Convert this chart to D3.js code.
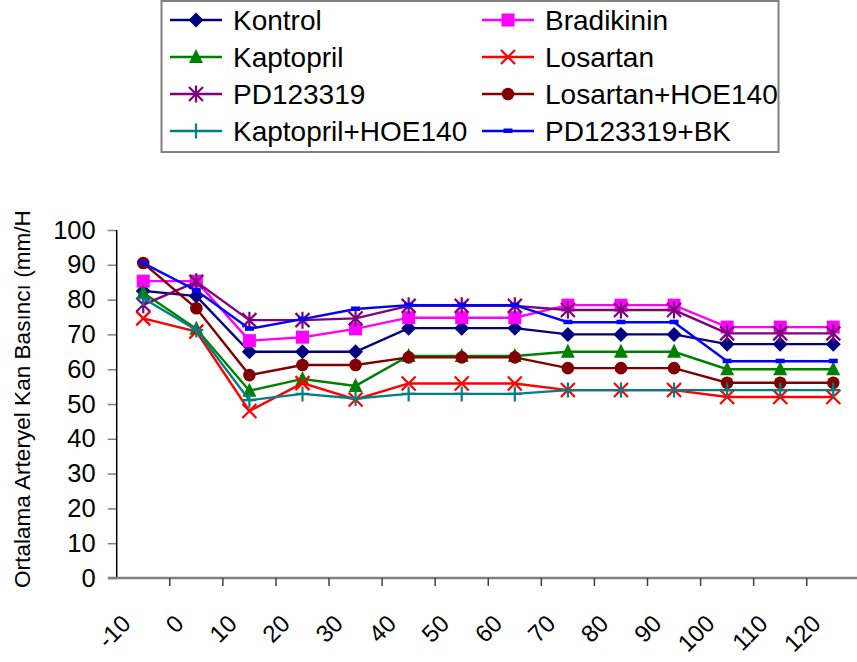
<!DOCTYPE html>
<html><head><meta charset="utf-8">
<script src="https://cdn.jsdelivr.net/npm/d3@7/dist/d3.min.js"></script>
<style>body{margin:0;background:#fff;}svg{display:block;font-family:"Liberation Sans",Arial,sans-serif;}</style>
</head><body><svg id="c" width="857" height="662"></svg>
<script>
const categories = ["-10","0","10","20","30","40","50","60","70","80","90","100","110","120"];
const yTicks = [0,10,20,30,40,50,60,70,80,90,100];
const seriesNames = ["Kontrol","Bradikinin","Kaptopril","Losartan","PD123319","Losartan+HOE140","Kaptopril+HOE140","PD123319+BK"];
const kontrol   = [82.5, 81, 65, 65, 65, 71.8, 71.8, 71.8, 70, 70, 70, 67.2, 67.2, 67.2];
const bradikinin= [85.3, 85.3, 68.2, 69.2, 71.6, 74.8, 74.8, 74.8, 78.4, 78.4, 78.4, 72.1, 72.1, 72.1];
const kaptopril = [82, 71.6, 53.8, 57.2, 55.2, 63.8, 63.8, 63.8, 65, 65, 65, 60, 60, 60];
const losartan  = [74.6, 70.8, 48, 56, 51.3, 55.9, 55.9, 55.9, 54, 54, 54, 52, 52, 52];
const pd123319  = [78.5, 85.1, 74.1, 74.1, 74.6, 78.2, 78.2, 78.2, 77, 77, 77, 70.3, 70.3, 70.3];
const losHoe    = [90.5, 77.5, 58.3, 61.2, 61.2, 63.4, 63.4, 63.4, 60.3, 60.3, 60.3, 56.1, 56.1, 56.1];
const kapHoe    = [80.4, 71.3, 51.1, 52.9, 51.6, 52.9, 52.9, 52.9, 54, 54, 54, 54, 54, 54];
const pdBk      = [90.5, 82.6, 71.6, 74.4, 77.3, 78.4, 78.4, 78.4, 73.5, 73.5, 73.5, 62.3, 62.3, 62.3];
const yTitle = "Ortalama Arteryel Kan Basıncı (mm/Hg)";

const seriesValues = [kontrol, bradikinin, kaptopril, losartan, pd123319, losHoe, kapHoe, pdBk];
const colors = ["#000080","#FF00FF","#008000","#FF0000","#800080","#800000","#008080","#0000FF"];
const markers = ["diamond","square","triangle","x","asterisk","circle","plus","dash"];

const svg = d3.select("#c");
const x = d3.scaleBand().domain(categories).range([116.7, 116.7 + 14*53.08]);
const y = d3.scaleLinear().domain([0,100]).range([578, 230]);

function drawMarker(g, type, cx, cy, color) {
  if (type === "diamond") {
    g.append("path").attr("d", `M${cx},${cy-7.5}L${cx+7.5},${cy}L${cx},${cy+7.5}L${cx-7.5},${cy}Z`).attr("fill", color);
  } else if (type === "square") {
    g.append("rect").attr("x", cx-6.5).attr("y", cy-6.5).attr("width", 13).attr("height", 13).attr("fill", color);
  } else if (type === "triangle") {
    g.append("path").attr("d", `M${cx},${cy-8}L${cx+7},${cy+6}L${cx-7},${cy+6}Z`).attr("fill", color);
  } else if (type === "circle") {
    g.append("circle").attr("cx", cx).attr("cy", cy).attr("r", 6.3).attr("fill", color);
  } else if (type === "x") {
    g.append("path").attr("d", `M${cx-7},${cy-7}L${cx+7},${cy+7}M${cx+7},${cy-7}L${cx-7},${cy+7}`).attr("stroke", color).attr("stroke-width", 2.2);
  } else if (type === "asterisk") {
    g.append("path").attr("d", `M${cx-7},${cy-7}L${cx+7},${cy+7}M${cx+7},${cy-7}L${cx-7},${cy+7}M${cx},${cy-8.5}L${cx},${cy+8.5}`).attr("stroke", color).attr("stroke-width", 2.2);
  } else if (type === "plus") {
    g.append("path").attr("d", `M${cx-7},${cy}L${cx+7},${cy}M${cx},${cy-7.5}L${cx},${cy+7.5}`).attr("stroke", color).attr("stroke-width", 2.2);
  } else if (type === "dash") {
    g.append("rect").attr("x", cx-4.5).attr("y", cy-2.5).attr("width", 9).attr("height", 4.5).attr("fill", color);
  }
}

// Y axis
const yAxis = d3.axisLeft(y).tickValues(yTicks).tickSize(9).tickPadding(12);
const yg = svg.append("g").attr("transform", "translate(116.7,0)").call(yAxis);
yg.select(".domain").remove();
yg.selectAll(".tick line").attr("stroke", "#808080").attr("stroke-width", 1.5);
yg.selectAll(".tick text").attr("font-size", 25.5).attr("fill", "#000").attr("font-family", "Liberation Sans, Arial, sans-serif");
svg.append("line").attr("x1", 116.7).attr("x2", 116.7).attr("y1", 230).attr("y2", 578).attr("stroke", "#000").attr("stroke-width", 1.5);

// X axis
const xg = svg.append("g");
xg.append("line").attr("x1", 108).attr("x2", 857).attr("y1", 578).attr("y2", 578).attr("stroke", "#808080").attr("stroke-width", 2.5);
categories.forEach((c, i) => {
  if (i > 0) {
    const tx = x(c);
    xg.append("line").attr("x1", tx).attr("x2", tx).attr("y1", 578).attr("y2", 586).attr("stroke", "#404040").attr("stroke-width", 1.5);
  }
  const cx = x(c) + x.bandwidth()/2;
  xg.append("text").attr("transform", `translate(${cx-11},${625}) rotate(-45)`)
    .attr("text-anchor", "end").attr("font-size", 24).attr("fill", "#000").text(c);
});

// Y title
svg.append("clipPath").attr("id", "tclip").append("rect").attr("x", 0).attr("y", 212).attr("width", 60).attr("height", 450);
svg.append("g").attr("clip-path", "url(#tclip)")
  .append("text")
  .attr("transform", "translate(29.5,588) rotate(-90)").attr("font-size", 22.6).attr("fill", "#000").text(yTitle);

// Series
const line = d3.line().x((d, i) => x(categories[i]) + x.bandwidth()/2).y(d => y(d));
seriesValues.forEach((vals, s) => {
  const g = svg.append("g");
  g.append("path").attr("d", line(vals)).attr("fill", "none").attr("stroke", colors[s]).attr("stroke-width", 2.4);
  vals.forEach((v, i) => drawMarker(g, markers[s], x(categories[i]) + x.bandwidth()/2, y(v), colors[s]));
});

// Legend
const lg = svg.append("g");
lg.append("rect").attr("x", 161.5).attr("y", 1).attr("width", 617).attr("height", 151).attr("fill", "#fff").attr("stroke", "#808080").attr("stroke-width", 2);
const rowY = [20, 57, 94, 131];
const colX = [[170, 222, 233], [482, 534, 545]];
seriesNames.forEach((n, s) => {
  const col = s % 2, row = Math.floor(s / 2);
  const cy = rowY[row];
  const [x1, x2, tx] = colX[col];
  lg.append("line").attr("x1", x1).attr("x2", x2).attr("y1", cy).attr("y2", cy).attr("stroke", colors[s]).attr("stroke-width", 2.4);
  drawMarker(lg, markers[s], (x1+x2)/2, cy, colors[s]);
  lg.append("text").attr("x", tx).attr("y", cy + 10).attr("font-size", 28).attr("fill", "#000").text(n);
});
</script></body></html>
